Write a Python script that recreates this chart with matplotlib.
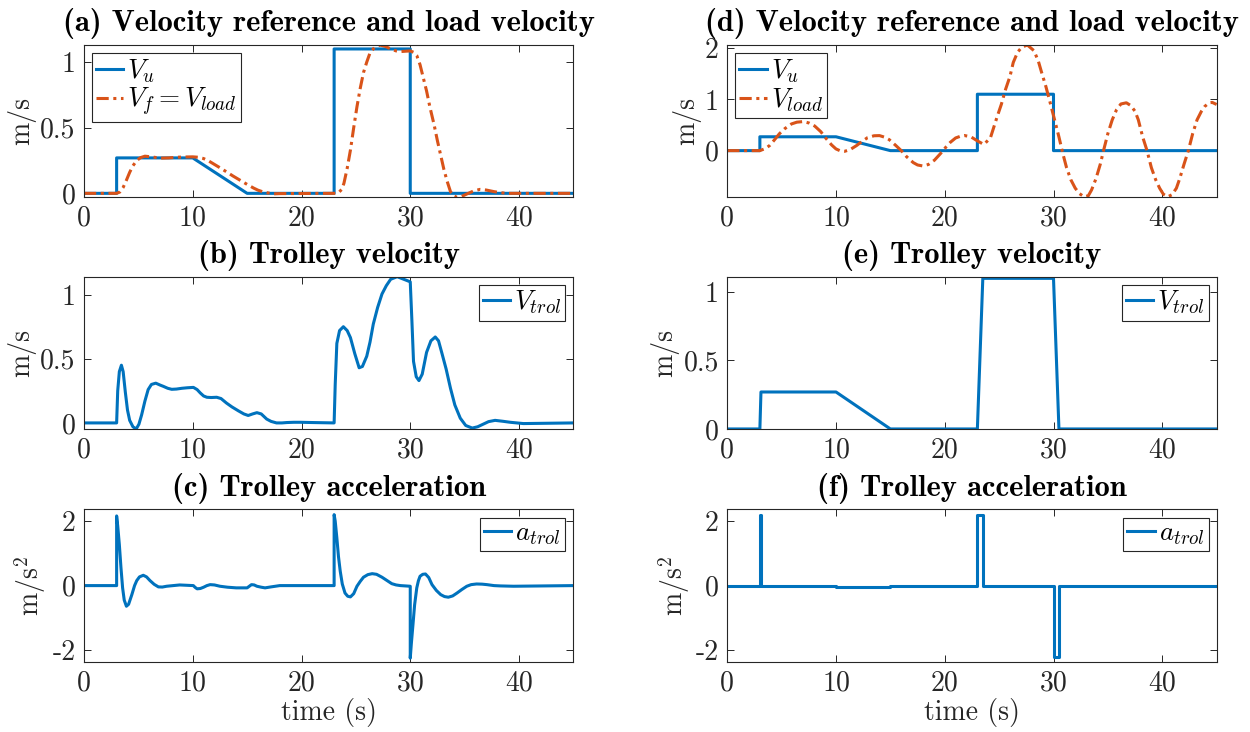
import matplotlib
matplotlib.use('Agg')
import matplotlib.pyplot as plt
from matplotlib.ticker import FuncFormatter

plt.rcParams.update({
    'font.family': 'cmr10',
    'mathtext.fontset': 'cm',
    'axes.unicode_minus': False,
    'axes.formatter.use_mathtext': False,
})

BLUE = '#0072BD'
ORANGE = '#D95319'
DARK = '#262626'

# ---------------- data ----------------
t_ref = [0, 3, 3, 10, 15, 23, 23, 30, 30, 45]
v_ref = [0, 0, 0.27, 0.27, 0, 0, 1.1, 1.1, 0, 0]

t_load_a = [0, 3.0, 3.3, 3.6, 3.9, 4.2, 4.5, 4.85, 5.2, 5.6, 6.2, 7.0, 7.8, 8.5, 9.3, 10.0,
            10.5, 11.0, 11.5, 11.9, 12.5, 13.1, 13.7, 14.35, 15.0, 15.6, 16.0, 16.5, 17.0,
            17.4, 18.0, 23.0, 23.4, 23.7, 23.9, 24.2, 24.5, 24.8, 25.1, 25.4, 25.7, 26.0,
            26.3, 26.7, 27.2, 27.7, 28.2, 28.7, 29.1, 29.6, 30.0, 30.3, 30.6, 30.9, 31.2,
            31.5, 31.8, 32.2, 32.5, 32.8, 33.1, 33.4, 33.7, 34.0, 34.3, 34.7, 35.2, 35.8,
            36.4, 37.0, 37.7, 38.3, 38.9, 45]
v_load_a = [0, 0, 0.01, 0.045, 0.10, 0.16, 0.21, 0.25, 0.272, 0.283, 0.278, 0.268, 0.27,
            0.275, 0.277, 0.278, 0.275, 0.265, 0.245, 0.225, 0.195, 0.164, 0.132, 0.10,
            0.068, 0.04, 0.024, 0.01, 0.002, -0.004, -0.002, 0.0, 0.005, 0.03, 0.076, 0.19,
            0.33, 0.50, 0.66, 0.80, 0.92, 1.00, 1.07, 1.11, 1.13, 1.12, 1.10, 1.085, 1.08,
            1.083, 1.085, 1.075, 1.05, 0.98, 0.88, 0.78, 0.66, 0.52, 0.40, 0.29, 0.18, 0.09,
            0.013, -0.02, -0.03, -0.025, -0.005, 0.017, 0.03, 0.025, 0.013, 0.005, 0.0, 0.0]

t_trol_b = [0, 3.0, 3.1, 3.25, 3.44, 3.6, 3.8, 4.0, 4.2, 4.5, 4.8, 5.05, 5.3, 5.6, 5.9, 6.2,
            6.6, 7.0, 7.3, 7.7, 8.07, 8.5, 9.0, 9.5, 10.06, 10.4, 10.7, 11.0, 11.3, 11.7,
            12.2, 12.6, 13.1, 13.6, 14.2, 14.7, 15.1, 15.5, 15.9, 16.3, 16.8, 17.2, 17.7,
            18.2, 18.65, 19.3, 19.9, 21.0, 23.0, 23.1, 23.25, 23.5, 23.85, 24.2, 24.5, 24.9,
            25.3, 25.6, 26.0, 26.3, 26.6, 27.0, 27.4, 27.8, 28.2, 28.8, 29.4, 30.0, 30.15,
            30.3, 30.55, 30.8, 31.1, 31.5, 31.9, 32.3, 32.6, 32.9, 33.3, 33.7, 34.1, 34.6,
            35.1, 35.7, 36.2, 36.7, 37.2, 37.8, 38.5, 39.2, 40.4, 45]
v_trol_b = [0, 0, 0.25, 0.40, 0.45, 0.40, 0.24, 0.10, 0.02, -0.03, -0.047, -0.01, 0.063,
            0.17, 0.26, 0.30, 0.31, 0.295, 0.285, 0.27, 0.262, 0.264, 0.27, 0.274, 0.277,
            0.26, 0.233, 0.21, 0.20, 0.198, 0.20, 0.19, 0.155, 0.125, 0.094, 0.07, 0.058,
            0.07, 0.08, 0.07, 0.03, 0.012, 0.0, 0.0, 0.003, 0.005, 0.005, 0.003, 0.0, 0.30,
            0.62, 0.72, 0.75, 0.72, 0.665, 0.54, 0.43, 0.44, 0.52, 0.63, 0.77, 0.90, 1.005,
            1.07, 1.12, 1.14, 1.12, 1.10, 0.80, 0.48, 0.36, 0.33, 0.38, 0.55, 0.64, 0.67,
            0.64, 0.547, 0.42, 0.27, 0.14, 0.037, -0.02, -0.04, -0.03, -0.01, 0.01, 0.02,
            0.013, 0.005, -0.005, 0.0]

t_acc_c = [0, 3.0, 3.0, 3.1, 3.25, 3.4, 3.55, 3.7, 3.9, 4.1, 4.4, 4.65, 4.85, 5.1, 5.45,
           5.75, 6.07, 6.45, 6.84, 7.2, 7.6, 8.2, 8.8, 10.06, 10.2, 10.4, 10.7, 11.0, 11.3,
           11.6, 12.0, 12.5, 13.2, 14.0, 15.0, 15.2, 15.4, 15.65, 15.9, 16.3, 16.65, 17.2,
           18.0, 23.0, 23.0, 23.1, 23.25, 23.4, 23.56, 23.75, 24.0, 24.25, 24.5, 24.8, 25.1,
           25.4, 25.7, 26.1, 26.5, 26.9, 27.4, 27.85, 28.3, 28.7, 29.1, 30.0, 30.0, 30.1,
           30.25, 30.4, 30.6, 30.75, 30.9, 31.15, 31.4, 31.7, 32.0, 32.4, 32.8, 33.15, 33.5,
           33.9, 34.3, 34.75, 35.2, 35.6, 36.1, 36.6, 37.05, 37.7, 38.3, 39.5, 45]
v_acc_c = [0, 0, 2.16, 1.85, 1.27, 0.55, -0.07, -0.45, -0.64, -0.58, -0.28, 0.0, 0.155,
           0.27, 0.32, 0.27, 0.155, 0.04, -0.04, -0.045, -0.02, 0.0, 0.02, 0.0, -0.05, -0.1,
           -0.09, -0.05, 0.0, 0.03, 0.02, -0.02, -0.05, -0.07, -0.07, -0.02, 0.03, 0.02,
           -0.02, -0.05, -0.07, -0.04, 0.0, 0.0, 2.2, 2.0, 1.48, 0.9, 0.45, 0.05, -0.23,
           -0.33, -0.35, -0.25, -0.02, 0.13, 0.26, 0.34, 0.37, 0.35, 0.26, 0.16, 0.06, 0.02,
           0.0, -0.02, -2.25, -1.8, -1.21, -0.6, -0.07, 0.15, 0.29, 0.35, 0.36, 0.25, 0.03,
           -0.15, -0.28, -0.34, -0.36, -0.32, -0.23, -0.12, -0.02, 0.03, 0.05, 0.045, 0.03,
           0.0, -0.01, -0.02, 0.0]

t_load_d = [0, 3.0, 3.5, 3.9, 4.3, 4.8, 5.3, 5.9, 6.4, 7.0, 7.5, 8.04, 8.6, 9.1, 9.6, 10.0,
            10.4, 10.8, 11.3, 11.9, 12.4, 12.9, 13.5, 14.0, 14.5, 14.9, 15.5, 16.0, 16.5,
            17.1, 17.5, 18.0, 18.5, 19.05, 19.6, 20.1, 20.5, 21.0, 21.5, 21.8, 22.4, 23.0,
            23.6, 24.2, 24.8, 25.2, 25.6, 26.0, 26.3, 26.7, 27.1, 27.6, 28.2, 28.6, 28.9,
            29.3, 29.7, 30.1, 30.5, 30.85, 31.2, 31.6, 32.0, 32.4, 32.8, 33.2, 33.5, 33.9,
            34.3, 34.6, 35.0, 35.4, 35.8, 36.2, 36.7, 37.1, 37.5, 37.8, 38.2, 38.6, 39.0,
            39.4, 39.76, 40.1, 40.5, 40.9, 41.3, 41.6, 42.0, 42.4, 42.8, 43.2, 43.6, 43.9,
            44.3, 44.6, 45.0]
v_load_d = [0, 0, 0.04, 0.1, 0.2, 0.33, 0.43, 0.52, 0.555, 0.567, 0.54, 0.48, 0.37, 0.233,
            0.11, 0.033, -0.005, -0.013, 0.02, 0.1, 0.18, 0.253, 0.29, 0.293, 0.26, 0.213,
            0.1, 0.0, -0.12, -0.233, -0.28, -0.30, -0.27, -0.187, -0.06, 0.067, 0.16, 0.247,
            0.285, 0.295, 0.27, 0.19, 0.12, 0.25, 0.65, 0.9, 1.2, 1.45, 1.72, 1.92, 2.02,
            2.06, 1.95, 1.75, 1.53, 1.25, 0.93, 0.6, 0.267, -0.05, -0.333, -0.57, -0.733,
            -0.84, -0.9, -0.88, -0.767, -0.55, -0.267, 0.0, 0.333, 0.6, 0.8, 0.91, 0.933,
            0.88, 0.767, 0.6, 0.267, 0.0, -0.333, -0.57, -0.733, -0.85, -0.9, -0.86, -0.733,
            -0.55, -0.267, 0.0, 0.333, 0.6, 0.767, 0.86, 0.933, 0.94, 0.9]

t_trol_e = [0, 3, 3.1, 10, 15, 23, 23.5, 30, 30.5, 45]
v_trol_e = [0, 0, 0.27, 0.27, 0, 0, 1.1, 1.1, 0, 0]

t_acc_f = [0, 3, 3, 3.12, 3.12, 10, 10, 15, 15, 23, 23, 23.5, 23.5, 30, 30, 30.5, 30.5, 45]
v_acc_f = [0, 0, 2.2, 2.2, 0, 0, -0.054, -0.054, 0, 0, 2.2, 2.2, 0, 0, -2.2, -2.2, 0, 0]

x_ticks = [0, 10, 20, 30, 40]

# ---------------- figure ----------------
fig = plt.figure(figsize=(12.5, 7.32), dpi=100)

colx = [0.0672, 0.5818]
w = 0.3915
rows_b = [0.7305, 0.414, 0.096]
h = 0.208

LW = 2.2
DASH = (0, (4.0, 1.5, 1.0, 1.5))
fmt = FuncFormatter(lambda v, p: ('%g' % v))


def style(ax, ylim, yticks, title, ylabel, xlabel=False):
    ax.set_xlim(0, 45)
    ax.set_ylim(*ylim)
    ax.set_xticks(x_ticks)
    ax.set_yticks(yticks)
    ax.yaxis.set_major_formatter(fmt)
    ax.xaxis.set_major_formatter(fmt)
    ax.tick_params(direction='in', top=True, right=True, length=5, width=0.7,
                   colors=DARK, labelsize=20, pad=6)
    for s in ax.spines.values():
        s.set_color(DARK)
        s.set_linewidth(0.8)
    ax.set_title(title, fontfamily='cmb10', fontsize=22, pad=10, color='black')
    ax.set_ylabel(ylabel, fontsize=20, color=DARK, labelpad=3)
    if xlabel:
        ax.set_xlabel('time (s)', fontsize=20, color=DARK, labelpad=1)


def leg(ax, loc):
    l = ax.legend(loc=loc, fontsize=19.5, frameon=True, fancybox=False, framealpha=1,
                  edgecolor=DARK, handlelength=1.0, handletextpad=0.15,
                  borderpad=0.15, labelspacing=0.05, borderaxespad=0.3)
    l.get_frame().set_linewidth(0.8)


# (a)
ax = fig.add_axes([colx[0], rows_b[0], w, h])
ax.plot(t_ref, v_ref, color=BLUE, lw=LW, label=r'$V_u$')
ax.plot(t_load_a, v_load_a, color=ORANGE, lw=LW, ls=DASH, label=r'$V_f = V_{load}$')
style(ax, (-0.03, 1.13), [0, 0.5, 1], '(a) Velocity reference and load velocity', 'm/s')
leg(ax, 'upper left')

# (b)
ax = fig.add_axes([colx[0], rows_b[1], w, h])
ax.plot(t_trol_b, v_trol_b, color=BLUE, lw=LW, label=r'$V_{trol}$')
style(ax, (-0.047, 1.14), [0, 0.5, 1], '(b) Trolley velocity', 'm/s')
leg(ax, 'upper right')

# (c)
ax = fig.add_axes([colx[0], rows_b[2], w, h])
ax.plot(t_acc_c, v_acc_c, color=BLUE, lw=LW, label=r'$a_{trol}$')
style(ax, (-2.36, 2.36), [-2, 0, 2], '(c) Trolley acceleration', r'm/s$^2$', xlabel=True)
leg(ax, 'upper right')

# (d)
ax = fig.add_axes([colx[1], rows_b[0], w, h])
ax.plot(t_ref, v_ref, color=BLUE, lw=LW, label=r'$V_u$')
ax.plot(t_load_d, v_load_d, color=ORANGE, lw=LW, ls=DASH, label=r'$V_{load}$')
style(ax, (-0.91, 2.06), [0, 1, 2], '(d) Velocity reference and load velocity', 'm/s')
leg(ax, 'upper left')

# (e)
ax = fig.add_axes([colx[1], rows_b[1], w, h])
ax.plot(t_trol_e, v_trol_e, color=BLUE, lw=LW, label=r'$V_{trol}$')
style(ax, (0, 1.112), [0, 0.5, 1], '(e) Trolley velocity', 'm/s')
leg(ax, 'upper right')

# (f)
ax = fig.add_axes([colx[1], rows_b[2], w, h])
ax.plot(t_acc_f, v_acc_f, color=BLUE, lw=LW, label=r'$a_{trol}$')
style(ax, (-2.36, 2.36), [-2, 0, 2], '(f) Trolley acceleration', r'm/s$^2$', xlabel=True)
leg(ax, 'upper right')

fig.savefig('out.png', dpi=100)
